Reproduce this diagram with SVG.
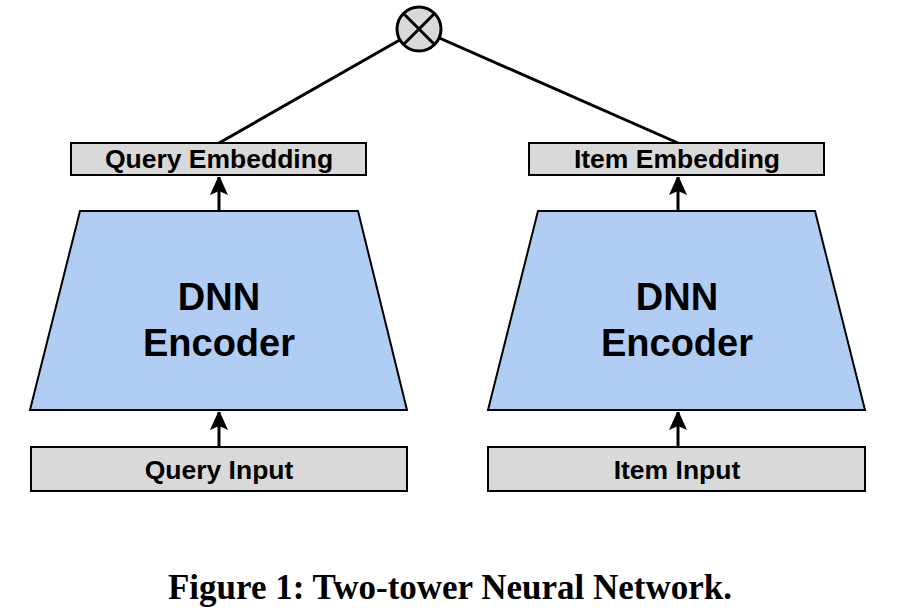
<svg xmlns="http://www.w3.org/2000/svg" width="906" height="614" viewBox="0 0 906 614">
<style>
.box{fill:#d9d9d9;stroke:#000;stroke-width:2}
.enc{fill:#b1cdf4;stroke:#000;stroke-width:2}
.lbl{font-family:"Liberation Sans",Arial,sans-serif;font-weight:bold;font-size:26.5px;text-anchor:middle}
.big{font-family:"Liberation Sans",Arial,sans-serif;font-weight:bold;font-size:38px;text-anchor:middle}
.cap{font-family:"Liberation Serif","Times New Roman",serif;font-weight:bold;font-size:35px;text-anchor:middle}
.ln{stroke:#000;stroke-width:3;fill:none}
</style>
<defs>
<marker id="arr" viewBox="0 0 18 20" refX="18" refY="9" markerWidth="18" markerHeight="20" orient="auto" markerUnits="userSpaceOnUse">
<path d="M0,0 L20,9 L0,18 L4,9 z" fill="#000"/>
</marker>
</defs>
<rect width="906" height="614" fill="#fff"/>
<g id="connectors">
<line class="ln" x1="219" y1="143" x2="419" y2="29"/>
<line class="ln" x1="678" y1="143" x2="419" y2="29"/>
<line class="ln" x1="219" y1="211" x2="219" y2="177" marker-end="url(#arr)"/>
<line class="ln" x1="678" y1="211" x2="678" y2="177" marker-end="url(#arr)"/>
<line class="ln" x1="219" y1="447" x2="219" y2="412" marker-end="url(#arr)"/>
<line class="ln" x1="678" y1="447" x2="678" y2="412" marker-end="url(#arr)"/>
</g>
<g id="product">
<circle cx="419" cy="29" r="22" fill="#d9d9d9" stroke="#000" stroke-width="3"/>
<line class="ln" x1="403.5" y1="13.5" x2="434.5" y2="44.5"/>
<line class="ln" x1="434.5" y1="13.5" x2="403.5" y2="44.5"/>
</g>
<g id="query-embedding">
<rect class="box" x="71" y="143" width="295" height="32"/>
<text class="lbl" x="219" y="168">Query Embedding</text>
</g>
<g id="item-embedding">
<rect class="box" x="529" y="143" width="295" height="32"/>
<text class="lbl" x="677" y="168">Item Embedding</text>
</g>
<g id="query-encoder">
<polygon class="enc" points="80,211 358,211 407,410 30,410"/>
<text class="big" x="219" y="310">DNN</text>
<text class="big" x="219" y="356">Encoder</text>
</g>
<g id="item-encoder">
<polygon class="enc" points="538,211 815,211 865,410 488,410"/>
<text class="big" x="677" y="310">DNN</text>
<text class="big" x="677" y="356">Encoder</text>
</g>
<g id="query-input">
<rect class="box" x="31" y="447" width="376" height="44"/>
<text class="lbl" x="219" y="479">Query Input</text>
</g>
<g id="item-input">
<rect class="box" x="488" y="447" width="377" height="44"/>
<text class="lbl" x="677" y="479">Item Input</text>
</g>
<text class="cap" x="450" y="599">Figure 1: Two-tower Neural Network.</text>
</svg>
